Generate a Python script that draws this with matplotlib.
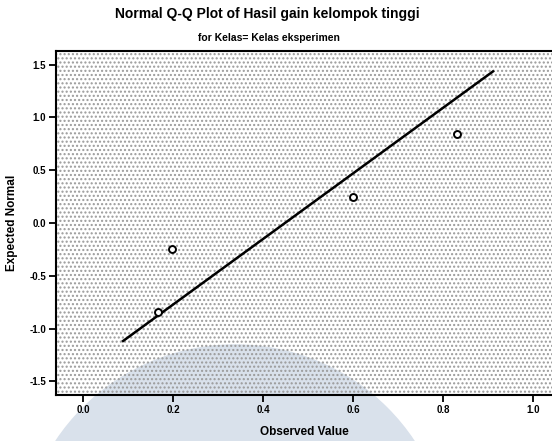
import matplotlib.pyplot as plt
from matplotlib.patches import Ellipse, Rectangle
import numpy as np

plt.rcParams['font.family'] = 'Liberation Sans'

# observed values and their expected normal scores
observed = np.array([0.167, 0.198, 0.600, 0.830])
expected = np.array([-0.84, -0.25, 0.25, 0.84])
line_x = np.array([0.089, 0.911])

mean = observed.mean()
sd = observed.std(ddof=1)
line_y = (line_x - mean) / sd

xticks = [0.0, 0.2, 0.4, 0.6, 0.8, 1.0]
yticks = [-1.5, -1.0, -0.5, 0.0, 0.5, 1.0, 1.5]

fig = plt.figure(figsize=(5.52, 4.41), dpi=100)

# faint watermark behind everything
wm = Ellipse((235 / 552, 1 - 560 / 441), 430 / 552, 430 / 441,
             transform=fig.transFigure, color='#d9e1eb', zorder=-5)
fig.patches.append(wm)

ax = fig.add_axes([56 / 552, 1 - 395 / 441, 1 - 56 / 552, (395 - 51) / 441])
ax.set_facecolor('none')
ax.set_zorder(1)

# speckled scan background
ax.add_patch(Rectangle((0, 0), 1, 1, transform=ax.transAxes, facecolor='none',
                       edgecolor='#9a9a9a', hatch='....', linewidth=0, zorder=0))

ax.plot(line_x, line_y, '-', color='black', linewidth=1.8, zorder=3)
ax.plot(observed, expected, 'o', markersize=5, markerfacecolor='white',
        markeredgecolor='black', markeredgewidth=1.4, zorder=4)

ax.set_xlim(-0.06, 1.042)
ax.set_ylim(-1.63, 1.63)
ax.set_xticks(xticks)
ax.set_yticks(yticks)
ax.set_xticklabels(['0.0', '0.2', '0.4', '0.6', '0.8', '1.0'], fontsize=7, fontweight='bold')
ax.set_yticklabels(['-1.5', '-1.0', '-0.5', '0.0', '0.5', '1.0', '1.5'], fontsize=7, fontweight='bold')
ax.tick_params(direction='out', length=5, width=1.3, pad=2)

for side in ['left', 'bottom', 'top']:
    ax.spines[side].set_linewidth(1.5)
ax.spines['right'].set_visible(False)

ax.set_xlabel('Observed Value', fontsize=8.5, fontweight='bold', labelpad=8)
ax.set_ylabel('Expected Normal', fontsize=8.5, fontweight='bold', labelpad=8)

fig.text(0.485, 1 - 14 / 441, 'Normal Q-Q Plot of Hasil gain kelompok tinggi',
         ha='center', va='center', fontsize=10, fontweight='bold')
fig.text(0.487, 1 - 38 / 441, 'for Kelas= Kelas eksperimen',
         ha='center', va='center', fontsize=7.5, fontweight='bold')

fig.savefig('out.png', dpi=100)
